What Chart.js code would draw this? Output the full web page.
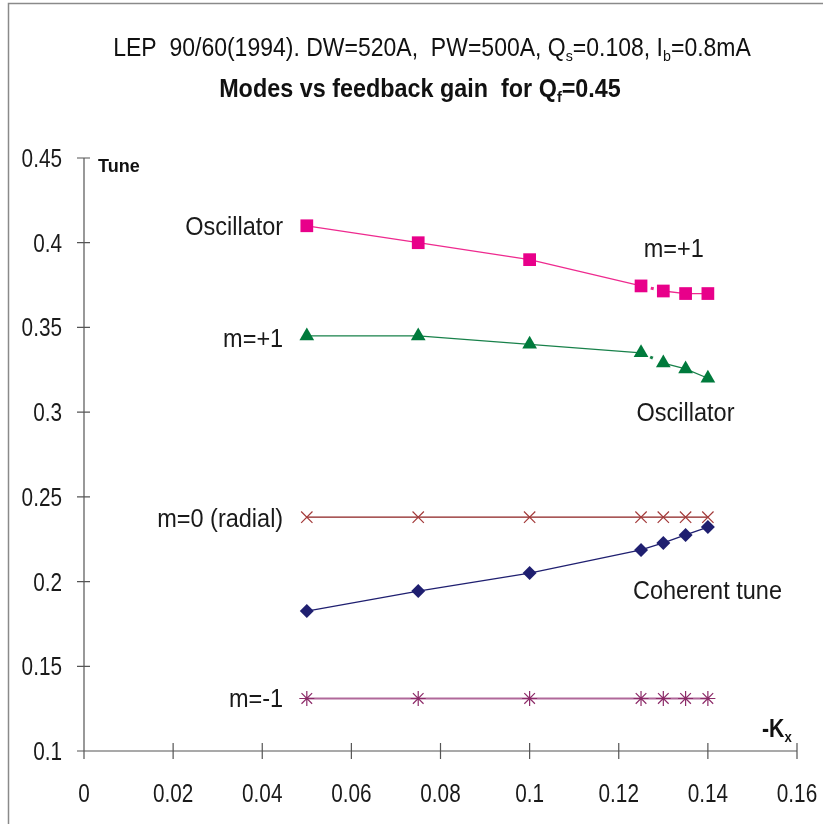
<!DOCTYPE html>
<html>
<head>
<meta charset="utf-8">
<script src="https://cdn.jsdelivr.net/npm/chart.js@4.4.1/dist/chart.umd.min.js"></script>
<style>
  html, body { margin: 0; padding: 0; background: #fff; }
  #wrap { width: 823px; height: 824px; position: relative; }
</style>
</head>
<body>
<div id="wrap"><canvas id="modes" width="823" height="824"></canvas></div>
<script>
const FONT = '"Liberation Sans", Arial, sans-serif';

// -Kx values
const gain = [0.05, 0.075, 0.1, 0.125, 0.13, 0.135, 0.14];

// tunes
const oscUpper = [0.410, 0.400, 0.390, 0.3745, 0.3715, 0.370, 0.370];
const mPlus1 = [0.345, 0.345, 0.340, 0.335, 0.329, 0.3255, 0.320];
const mZero = [0.238, 0.238, 0.238, 0.238, 0.238, 0.238, 0.238];
const coherent = [0.1826, 0.1944, 0.205, 0.2187, 0.2228, 0.2275, 0.2322];
const mMinus1 = [0.131, 0.131, 0.131, 0.131, 0.131, 0.131, 0.131];

const xTicks = [0, 0.02, 0.04, 0.06, 0.08, 0.1, 0.12, 0.14, 0.16];
const yTicks = [0.1, 0.15, 0.2, 0.25, 0.3, 0.35, 0.4, 0.45];

// text labels next to the curves (anchored in data units)
const notes = [
  { text: 'Oscillator', x: 0.0447, y: 0.410, align: 'right' },
  { text: 'm=+1', x: 0.1256, y: 0.397, align: 'left' },
  { text: 'm=+1', x: 0.0447, y: 0.344, align: 'right' },
  { text: 'Oscillator', x: 0.124, y: 0.300, align: 'left' },
  { text: 'm=0 (radial)', x: 0.0447, y: 0.2375, align: 'right' },
  { text: 'Coherent tune', x: 0.1232, y: 0.195, align: 'left' },
  { text: 'm=-1', x: 0.0447, y: 0.131, align: 'right' }
];

function pts(ys) {
  return gain.map((g, i) => ({ x: g, y: ys[i] }));
}

const fmt = v => String(Math.round(v * 100) / 100);

// text runs with optional subscripts, squeezed horizontally by sx
function drawRuns(ctx, runs, x, y, size, weight, align, sx) {
  const sub = size * 0.62;
  let total = 0;
  runs.forEach(r => {
    ctx.font = weight + ' ' + (r.sub ? sub : size) + 'px ' + FONT;
    r.w = ctx.measureText(r.t).width * sx;
    total += r.w;
  });
  let cx = align === 'center' ? x - total / 2 : (align === 'right' ? x - total : x);
  ctx.textAlign = 'left';
  ctx.textBaseline = 'alphabetic';
  runs.forEach(r => {
    ctx.font = weight + ' ' + (r.sub ? sub : size) + 'px ' + FONT;
    ctx.save();
    ctx.translate(cx, r.sub ? y + size * 0.18 : y);
    ctx.scale(sx, 1);
    ctx.fillText(r.t, 0, 0);
    ctx.restore();
    cx += r.w;
  });
}

const decor = {
  id: 'decor',
  afterDraw(chart) {
    const ctx = chart.ctx;
    const xs = chart.scales.x, ys = chart.scales.y;
    const x0 = xs.getPixelForValue(0), x1 = xs.getPixelForValue(0.16);
    const y0 = ys.getPixelForValue(0.1), y1 = ys.getPixelForValue(0.45);
    ctx.save();
    // frame
    ctx.strokeStyle = '#8a8a8a';
    ctx.lineWidth = 1.5;
    ctx.strokeRect(8.5, 3.5, 830, 840);

    // axes
    ctx.strokeStyle = '#555';
    ctx.lineWidth = 1.2;
    ctx.beginPath();
    ctx.moveTo(x0, y0); ctx.lineTo(x1, y0);
    ctx.moveTo(x0, y0); ctx.lineTo(x0, y1);
    xTicks.forEach(v => {
      const p = xs.getPixelForValue(v);
      ctx.moveTo(p, y0 - 8); ctx.lineTo(p, y0 + 8);
    });
    yTicks.forEach(v => {
      const p = ys.getPixelForValue(v);
      ctx.moveTo(x0 - 7, p); ctx.lineTo(x0 + 6, p);
    });
    ctx.stroke();

    // tick labels
    ctx.fillStyle = '#1a1a1a';
    xs.ticks.forEach(t => {
      drawRuns(ctx, [{ t: fmt(t.value) }], xs.getPixelForValue(t.value), y0 + 51, 25, 'normal', 'center', 0.83);
    });
    ys.ticks.forEach(t => {
      drawRuns(ctx, [{ t: fmt(t.value) }], x0 - 22, ys.getPixelForValue(t.value) + 9, 25, 'normal', 'right', 0.83);
    });

    // titles
    ctx.fillStyle = '#111';
    drawRuns(ctx, [
      { t: 'LEP  90/60(1994). DW=520A,  PW=500A, Q' }, { t: 's', sub: true },
      { t: '=0.108, I' }, { t: 'b', sub: true }, { t: '=0.8mA' }
    ], 432, 56, 25, 'normal', 'center', 0.92);
    drawRuns(ctx, [
      { t: 'Modes vs feedback gain  for Q' }, { t: 'f', sub: true }, { t: '=0.45' }
    ], 420, 97, 25, 'bold', 'center', 0.935);

    // axis titles
    drawRuns(ctx, [{ t: 'Tune' }], x0 + 14, y1 + 14, 19, 'bold', 'left', 0.95);
    drawRuns(ctx, [{ t: '-K' }, { t: 'x', sub: true }], x1 - 35, y0 - 14, 25, 'bold', 'left', 0.85);

    // curve labels
    ctx.fillStyle = '#1a1a1a';
    notes.forEach(n => {
      const px = xs.getPixelForValue(n.x), py = ys.getPixelForValue(n.y);
      drawRuns(ctx, [{ t: n.text }], px, py + 9, 25, 'normal', n.align, 0.94);
    });
    ctx.restore();
  }
};

// the 0.125 -> 0.13 piece shows only as a small dot between the markers
const gapDash = c => (c.p0DataIndex === 3 ? [1, 9, 3, 100] : undefined);

const ctx = document.getElementById('modes').getContext('2d');
new Chart(ctx, {
  type: 'scatter',
  data: {
    datasets: [
      {
        label: 'Oscillator',
        data: pts(oscUpper),
        showLine: true,
        borderColor: '#ee2a8f',
        backgroundColor: '#e8008a',
        borderWidth: 1.3,
        segment: { borderDash: gapDash, borderWidth: c => (c.p0DataIndex === 3 ? 3 : undefined) },
        pointStyle: 'rect',
        pointRadius: 9,
        pointBorderWidth: 0
      },
      {
        label: 'm=+1',
        data: pts(mPlus1),
        showLine: true,
        borderColor: '#18814a',
        backgroundColor: '#007a3c',
        borderWidth: 1.3,
        segment: { borderDash: gapDash, borderWidth: c => (c.p0DataIndex === 3 ? 3 : undefined) },
        pointStyle: 'triangle',
        pointRadius: 8.5,
        pointBorderWidth: 0
      },
      {
        label: 'm=0 (radial)',
        data: pts(mZero),
        showLine: true,
        borderColor: '#8b1f1f',
        backgroundColor: '#a03030',
        borderWidth: 1.3,
        pointStyle: 'crossRot',
        pointRadius: 8,
        pointBorderColor: '#a33a3a',
        pointBorderWidth: 1.2
      },
      {
        label: 'Coherent tune',
        data: pts(coherent),
        showLine: true,
        borderColor: '#1f1f70',
        backgroundColor: '#1f1f70',
        borderWidth: 1.3,
        pointStyle: 'rectRot',
        pointRadius: 7,
        pointBorderWidth: 0
      },
      {
        label: 'm=-1',
        data: pts(mMinus1),
        showLine: true,
        borderColor: '#b0689a',
        backgroundColor: '#8c2a68',
        borderWidth: 2,
        pointStyle: 'star',
        pointRadius: 7.5,
        pointBorderColor: '#8c2a68',
        pointBorderWidth: 1.2
      }
    ]
  },
  options: {
    responsive: false,
    animation: false,
    layout: { padding: { left: 0, top: 158, right: 26, bottom: 0 } },
    plugins: {
      legend: { display: false },
      tooltip: { enabled: false }
    },
    scales: {
      x: {
        type: 'linear',
        min: 0,
        max: 0.16,
        afterFit: s => { s.height = 73; },
        grid: { display: false, drawTicks: false },
        border: { display: false },
        ticks: { display: false, stepSize: 0.02 }
      },
      y: {
        type: 'linear',
        min: 0.1,
        max: 0.45,
        afterFit: s => { s.width = 84; },
        grid: { display: false, drawTicks: false },
        border: { display: false },
        ticks: { display: false, stepSize: 0.05 }
      }
    }
  },
  plugins: [decor]
});
</script>
</body>
</html>
